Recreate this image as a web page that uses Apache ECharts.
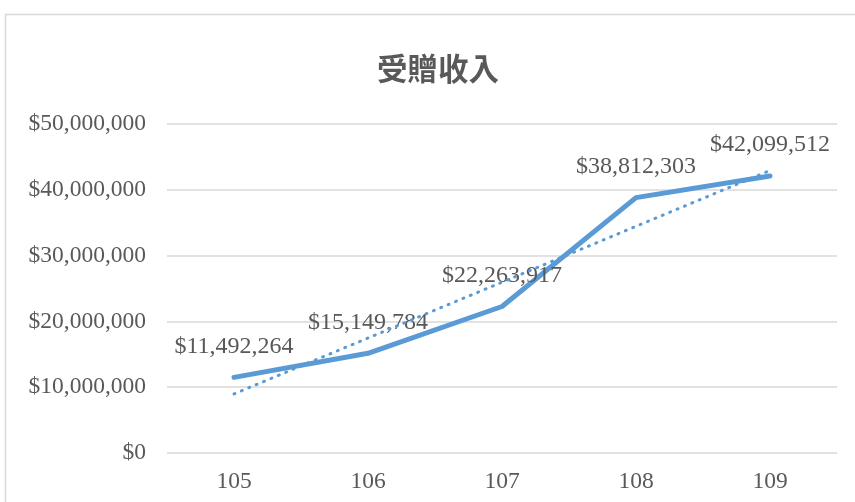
<!DOCTYPE html>
<html>
<head>
<meta charset="utf-8">
<script src="https://cdn.jsdelivr.net/npm/echarts@6/dist/echarts.min.js"></script>
<style>
  html, body { margin: 0; padding: 0; background: #fff; }
  #chart { width: 855px; height: 502px; }
</style>
</head>
<body>
<div id="chart"></div>
<script>
// data
const years = ["105", "106", "107", "108", "109"];
const incomeValues = [11492264, 15149784, 22263917, 38812303, 42099512];
// linear trendline
const trendValues = [8980000, 17470000, 25960000, 34450000, 42940000];
const yTicks = [0, 10000000, 20000000, 30000000, 40000000, 50000000];

const textColor = "#595959";
const lineColor = "#5b9bd5";
const serif = "'Liberation Serif', 'Times New Roman', serif";

const money = (v) => "$" + Number(v).toLocaleString("en-US");

const chart = echarts.init(document.getElementById("chart"), null, { renderer: "canvas" });

chart.setOption({
  animation: false,
  backgroundColor: "#fff",
  graphic: [{
    type: "rect",
    shape: { x: 5.5, y: 14.5, width: 900, height: 600 },
    style: { fill: "none", stroke: "#d9d9d9", lineWidth: 1.5 },
    silent: true
  }],
  title: {
    text: "受贈收入",
    left: 372,
    top: 48,
    textStyle: {
      fontFamily: "'Noto Sans CJK TC', 'Noto Sans CJK SC', sans-serif",
      fontSize: 30.5,
      fontWeight: "bold",
      color: textColor
    }
  },
  grid: { left: 167, right: 18, top: 124, bottom: 49, containLabel: false },
  xAxis: {
    type: "category",
    data: years,
    boundaryGap: true,
    axisLine: { show: false },
    axisTick: { show: false },
    axisLabel: { color: textColor, fontFamily: serif, fontSize: 23.5, margin: 17 }
  },
  yAxis: {
    type: "value",
    min: yTicks[0],
    max: yTicks[yTicks.length - 1],
    interval: yTicks[1] - yTicks[0],
    axisLine: { show: false },
    axisTick: { show: false },
    axisLabel: {
      color: textColor, fontFamily: serif, fontSize: 23.5, margin: 21,
      formatter: (v) => money(v)
    },
    splitLine: { lineStyle: { color: "#d9d9d9", width: 1.5 } }
  },
  series: [
    {
      type: "line",
      name: "受贈收入",
      data: incomeValues,
      symbol: "circle",
      symbolSize: 2,
      showSymbol: true,
      itemStyle: { color: "rgba(0,0,0,0)", borderWidth: 0 },
      lineStyle: { color: lineColor, width: 5, cap: "round", join: "round" },
      label: {
        show: true,
        position: "top",
        distance: 18,
        color: textColor,
        fontFamily: serif,
        fontSize: 24,
        formatter: (p) => money(p.value)
      },
      labelLayout: { hideOverlap: false },
      z: 3
    },
    {
      type: "line",
      name: "trend",
      data: trendValues,
      symbol: "none",
      lineStyle: { color: lineColor, width: 3, type: [1, 7], cap: "round" },
      z: 4
    }
  ]
});
</script>
</body>
</html>
